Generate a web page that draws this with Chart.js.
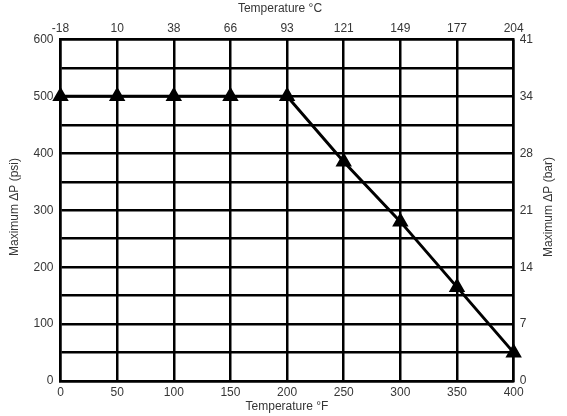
<!DOCTYPE html>
<html>
<head>
<meta charset="utf-8">
<script src="https://cdn.jsdelivr.net/npm/chart.js@4/dist/chart.umd.min.js"></script>
<style>
  html, body { margin: 0; padding: 0; background: #fff; }
  #wrap { width: 567px; height: 416px; position: relative; }
</style>
</head>
<body>
<div id="wrap"><canvas id="chart"></canvas></div>
<script>
// temperature (°F) along the bottom, and the matching °C labels on top
const tempF = [0, 50, 100, 150, 200, 250, 300, 350, 400];
const tempCLabels = ["-18", "10", "38", "66", "93", "121", "149", "177", "204"];

// max differential pressure (psi)
const maxDpPsi = [500, 500, 500, 500, 500, 385, 280, 165, 50];

// right axis: bar labels at every 100 psi
const psiTicks = [0, 100, 200, 300, 400, 500, 600];
const barLabels = ["0", "7", "14", "21", "28", "34", "41"];

const TEXT = "#363636";
const FONT = { family: "Liberation Sans, Arial, sans-serif", size: 12 };
const GRID = { color: "#000", lineWidth: 2.5, drawTicks: false };

// axis titles drawn by hand so they sit where the original has them
// (the right one reads bottom-to-top, like the left one)
const axisTitles = {
  id: "axisTitles",
  afterDraw(chart) {
    const { ctx } = chart;
    const put = (text, x, y, rot) => {
      ctx.save();
      ctx.translate(x, y);
      if (rot) ctx.rotate(rot);
      ctx.fillText(text, 0, 0);
      ctx.restore();
    };
    ctx.save();
    ctx.fillStyle = TEXT;
    ctx.font = `${FONT.size}px ${FONT.family}`;
    ctx.textAlign = "center";
    ctx.textBaseline = "middle";
    put("Temperature \u00B0C", 280, 9);
    put("Temperature \u00B0F", 287, 407);
    put("Maximum \u0394P (psi)", 15, 207, -Math.PI / 2);
    put("Maximum \u0394P (bar)", 549, 207, -Math.PI / 2);
    ctx.restore();
  },
};

new Chart(document.getElementById("chart"), {
  type: "scatter",
  data: {
    datasets: [{
      data: tempF.map((t, i) => ({ x: t, y: maxDpPsi[i] })),
      showLine: true,
      borderColor: "#000",
      backgroundColor: "#000",
      borderWidth: 3,
      pointStyle: "triangle",
      pointRadius: 6.5,
      pointHoverRadius: 6.5,
      clip: false,
    }],
  },
  options: {
    responsive: true,
    maintainAspectRatio: false,
    animation: false,
    layout: { padding: { top: 17, right: 28, left: 26.5, bottom: 12.5 } },
    plugins: { legend: { display: false }, tooltip: { enabled: false } },
    scales: {
      x: {
        type: "linear", position: "bottom", min: 0, max: 400,
        grid: GRID,
        border: { color: "#000", width: 2.5 },
        ticks: { stepSize: 50, color: TEXT, font: FONT, padding: 4, maxRotation: 0 },
      },
      x2: {
        type: "linear", position: "top", min: 0, max: 400,
        grid: { display: false, drawTicks: false },
        border: { color: "#000", width: 2.5 },
        ticks: {
          stepSize: 50, color: TEXT, font: FONT, padding: 4, maxRotation: 0,
          callback: (v) => tempCLabels[tempF.indexOf(v)] ?? "",
        },
      },
      y: {
        type: "linear", position: "left", min: 0, max: 600,
        grid: GRID,
        border: { color: "#000", width: 2.5 },
        ticks: {
          stepSize: 50, color: TEXT, font: FONT, padding: 7,
          callback: (v) => (psiTicks.includes(v) ? String(v) : ""),
        },
      },
      y2: {
        type: "linear", position: "right", min: 0, max: 600,
        grid: { display: false, drawTicks: false },
        border: { color: "#000", width: 2.5 },
        ticks: {
          stepSize: 50, color: TEXT, font: FONT, padding: 6,
          callback: (v) => {
            const i = psiTicks.indexOf(v);
            return i >= 0 ? barLabels[i] : "";
          },
        },
      },
    },
  },
  plugins: [axisTitles],
});
</script>
</body>
</html>
